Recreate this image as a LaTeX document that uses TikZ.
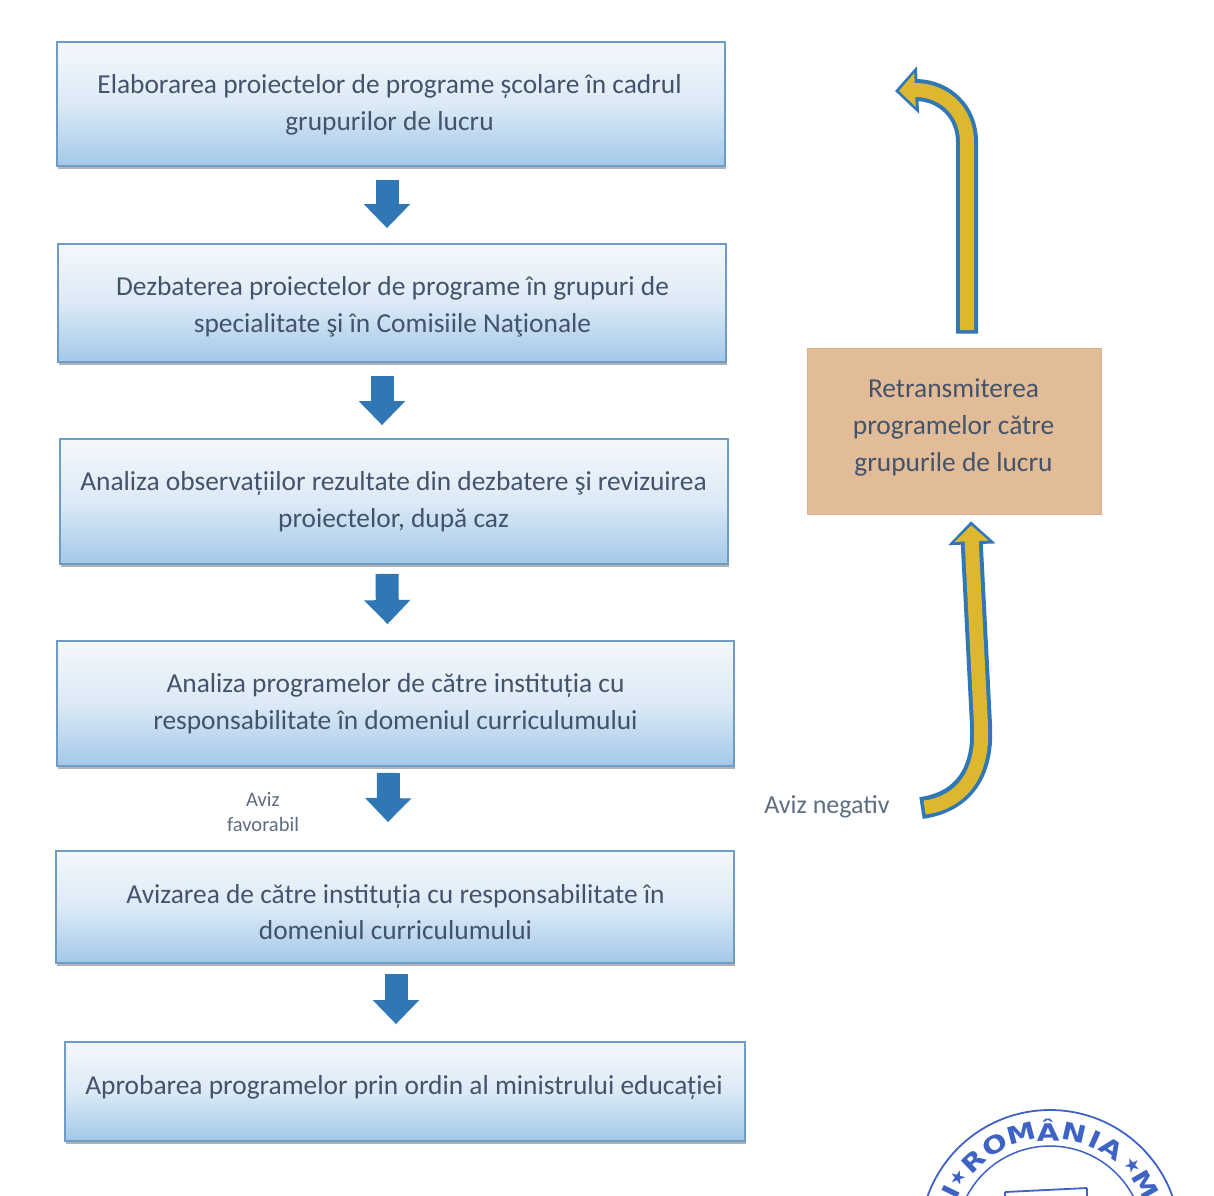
\documentclass[tikz,border=0pt]{standalone}
\usepackage{fontspec}
\setmainfont{Carlito}
\newfontfamily\stampfont{DejaVu Sans}
\usetikzlibrary{shadows,arrows.meta,calc}
\definecolor{boxtext}{HTML}{43536B}
\definecolor{boxedge}{HTML}{6F9CC6}
\definecolor{boxbottom}{HTML}{A3C8E8}
\definecolor{boxtop}{HTML}{F4F8FC}
\definecolor{arrowblue}{HTML}{2F78B5}
\definecolor{goldfill}{HTML}{DDB82F}
\definecolor{brownfill}{HTML}{E2BC97}
\definecolor{stampblue}{HTML}{3F63C4}
\tikzset{
  x=1pt,y=-1pt,
  stepbox/.style={draw=boxedge,line width=1.8pt,top color=boxtop,bottom color=boxbottom,
    middle color=boxtop!70!boxbottom,
    drop shadow={shadow xshift=1pt,shadow yshift=-3pt,fill=black,opacity=.3},inner sep=0pt},
  steptext/.style={text=boxtext,align=center,font=\fontsize{27.4}{36.8}\selectfont,inner sep=0pt},
  brownbox/.style={fill=brownfill,draw=brownfill!85!gray,line width=.6pt,inner sep=0pt},
  note/.style={text=boxtext!85!white,align=center,inner sep=0pt},
  flow/.style={draw=arrowblue,line width=23pt,-{Triangle[length=24pt,width=45pt]}},
  goldout/.style={draw=arrowblue,line width=22pt,-{Triangle[length=23pt,width=46pt]}},
  goldin/.style={draw=goldfill,line width=14pt,-{Triangle[length=16pt,width=33pt]},shorten <=3.6pt,shorten >=4pt},
  stampletter/.style={text=stampblue,font=\stampfont\bfseries\fontsize{24}{24}\selectfont,inner sep=0pt},
  stampline/.style={draw=stampblue,line width=1.8pt}
}
\begin{document}
\begin{tikzpicture}
\useasboundingbox (0,0) rectangle (1214,1195);
\fill[white] (0,0) rectangle (1214,1195);
\node[stepbox,minimum width=668pt,minimum height=124pt] (b1) at (391,104) {};
\node[stepbox,minimum width=668pt,minimum height=118pt] (b2) at (392,303) {};
\node[stepbox,minimum width=668pt,minimum height=125pt] (b3) at (394,501.5) {};
\node[stepbox,minimum width=677pt,minimum height=125pt] (b4) at (395.5,703.5) {};
\node[stepbox,minimum width=678pt,minimum height=112pt] (b5) at (395,907) {};
\node[stepbox,minimum width=680pt,minimum height=99pt] (b6) at (405,1091.5) {};
\node[brownbox,minimum width=294pt,minimum height=166pt] (r) at (954,431) {};
\node[steptext] (t1) at (389.5,104.5) {Elaborarea proiectelor de programe școlare în cadrul\\grupurilor de lucru};
\node[steptext] (t2) at (392.5,306.5) {Dezbaterea proiectelor de programe în grupuri de\\specialitate şi în Comisiile Naţionale};
\node[steptext] (t3) at (393.5,501.5) {Analiza observațiilor rezultate din dezbatere şi revizuirea\\proiectelor, după caz};
\node[steptext] (t4) at (395.5,704) {Analiza programelor de către instituția cu\\responsabilitate în domeniul curriculumului};
\node[steptext] (t5) at (395.5,912) {Avizarea de către instituția cu responsabilitate în\\domeniul curriculumului};
\node[steptext] (t6) at (404,1087) {Aprobarea programelor prin ordin al ministrului educației};
\node[steptext] (t7) at (953.5,427.5) {Retransmiterea\\programelor către\\grupurile de lucru};
\node[note,font=\fontsize{20.5}{25}\selectfont] (fav) at (263,812) {Aviz\\favorabil};
\node[note,font=\fontsize{26}{28}\selectfont] (neg) at (827,807) {Aviz negativ};
\draw[flow] ([xshift=-4pt,yshift=-13pt]b1.south) -- ([xshift=-5pt,yshift=15pt]b2.north);
\draw[flow] ([xshift=-10pt,yshift=-13pt]b2.south) -- ([xshift=-12pt,yshift=13pt]b3.north);
\draw[flow] ([xshift=-7pt,yshift=-9pt]b3.south) -- ([xshift=-8pt,yshift=16pt]b4.north);
\draw[flow] ([xshift=-7pt,yshift=-6pt]b4.south) -- ([xshift=-7pt,yshift=28pt]b5.north);
\draw[flow] ([xshift=1pt,yshift=-10pt]b5.south) -- ([xshift=-9pt,yshift=17pt]b6.north);
\coordinate (upA) at (967,142);
\coordinate (upB) at (917,90);
\coordinate (upTip) at (895,91);
\foreach \s in {goldout,goldin}
  \draw[\s] ([xshift=13pt,yshift=14pt]r.north) -- (upA) .. controls (967,112) and (945,91) .. (upB) -- (upTip);
\coordinate (tail) at (921,808);
\coordinate (lowA) at (981,725);
\foreach \s in {goldout,goldin}
  \draw[\s] (tail) .. controls (958,803) and (984,778) .. (lowA) -- (972,548) -- ([xshift=17pt,yshift=-7pt]r.south);
% stamp
\coordinate (sc) at (1050,1240);
\draw[stampline] (sc) circle[radius=130];
\draw[stampline,line width=1.5pt] (sc) circle[radius=94];
\foreach \a/\l in {134/R,120/O,105/M,91/Â,77/N,66/I,56/A,154/I,30/M}
  \node[stampletter,rotate=\a-90] at ($(sc)+({110*cos(\a)},{-110*sin(\a)})$) {\scalebox{1.22}[1]{\l}};
\foreach \a in {146,42}
  \node[stampletter,font=\stampfont\fontsize{19}{19}\selectfont,rotate=\a-90] at ($(sc)+({112*cos(\a)},{-112*sin(\a)})$) {★};
\coordinate (crestL) at (1005,1192);
\coordinate (crestR) at (1087,1188);
\draw[stampline] (crestL) -- (crestR);
\draw[stampline] (crestL) -- ++(0,6);
\draw[stampline] (crestR) -- ++(0,10);
\end{tikzpicture}
\end{document}
